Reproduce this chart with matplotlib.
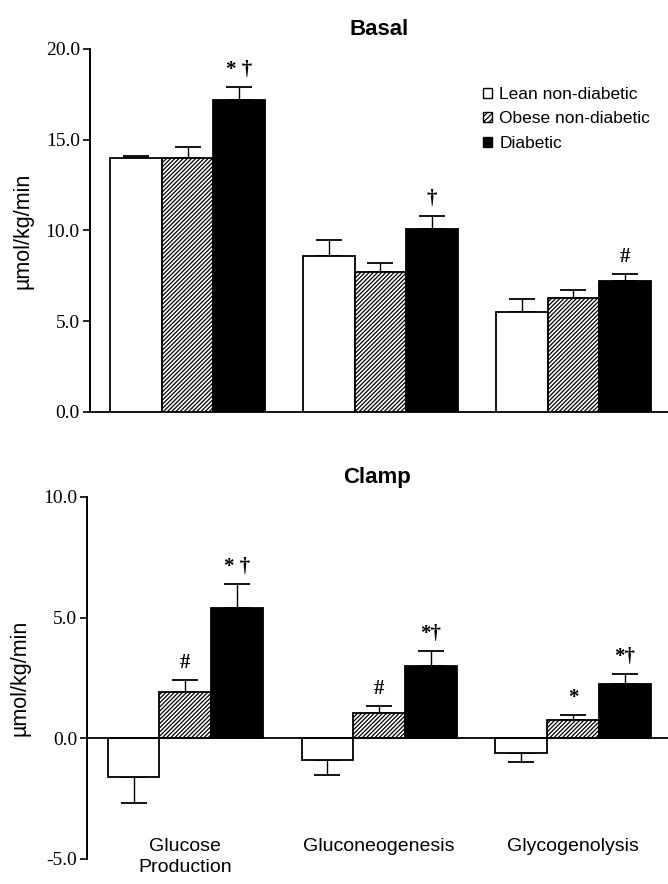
import numpy as np
import matplotlib
matplotlib.use("Agg")
import matplotlib.pyplot as plt
from matplotlib.patches import Patch

# measures on the x axis
categories = ["Glucose\nProduction", "Gluconeogenesis", "Glycogenolysis"]
groups = ["Lean non-diabetic", "Obese non-diabetic", "Diabetic"]

# basal rates (umol/kg/min), one list per group, and SEM
basal_lean = [14.0, 8.6, 5.5]
basal_obese = [14.0, 7.7, 6.3]
basal_diab = [17.2, 10.1, 7.2]
basal_lean_err = [0.1, 0.9, 0.7]
basal_obese_err = [0.6, 0.5, 0.4]
basal_diab_err = [0.7, 0.7, 0.4]

# clamp rates
clamp_lean = [-1.6, -0.9, -0.6]
clamp_obese = [1.9, 1.05, 0.75]
clamp_diab = [5.4, 3.0, 2.25]
clamp_lean_err = [1.1, 0.6, 0.4]
clamp_obese_err = [0.5, 0.3, 0.2]
clamp_diab_err = [1.0, 0.6, 0.4]

# significance marks
basal_marks_obese = ["", "", ""]
basal_marks_diab = ["* \u2020", "\u2020", "#"]
clamp_marks_obese = ["#", "#", "*"]
clamp_marks_diab = ["* \u2020", "*\u2020", "*\u2020"]

SERIF = "Liberation Serif"
SANS = "Liberation Sans"
HATCH = "////////"
plt.rcParams["hatch.linewidth"] = 0.9


def draw_panel(ax, series, errs, marks, title, ylim, yticks):
    x = np.arange(len(categories))
    w = 0.267
    styles = [dict(color="white", hatch=None),
              dict(color="white", hatch=HATCH),
              dict(color="black", hatch=None)]
    for i, (vals, err, mk, st) in enumerate(zip(series, errs, marks, styles)):
        xi = x + (i - 1) * w
        vals = np.array(vals)
        err = np.array(err)
        ax.bar(xi, vals, width=w, color=st["color"], hatch=st["hatch"],
               edgecolor="black", linewidth=1.3, zorder=3)
        lo = np.where(vals < 0, err, 0)
        hi = np.where(vals >= 0, err, 0)
        ax.errorbar(xi, vals, yerr=[lo, hi], fmt="none", ecolor="black",
                    elinewidth=1.0, capsize=9.5, capthick=1.3, zorder=2)
        for xx, v, e, m in zip(xi, vals, err, mk):
            if m:
                ax.annotate(m, (xx, v + e), xytext=(0, 5),
                            textcoords="offset points", ha="center",
                            va="bottom", fontsize=15, fontweight="bold",
                            family=SERIF)
    ax.set_xlim(-0.508, 2.49)
    ax.set_ylim(*ylim)
    ax.set_yticks(yticks)
    ax.set_yticklabels(["%.1f" % t for t in yticks], family=SERIF,
                       fontsize=14)
    ax.set_xticks([])
    ax.tick_params(axis="y", direction="out", length=5, width=1.2, pad=2)
    ax.spines["left"].set_linewidth(1.4)
    ax.spines["top"].set_visible(False)
    ax.spines["right"].set_visible(False)
    ax.set_ylabel("\u00b5mol/kg/min", family=SANS, fontsize=15.5,
                  labelpad=9)
    ax.set_title(title, family=SANS, fontweight="bold", fontsize=16,
                 pad=10)


fig = plt.figure(figsize=(6.68, 8.84), dpi=100)
ax1 = fig.add_axes([0.134, 0.534, 0.866, 0.4106])
ax2 = fig.add_axes([0.130, 0.0283, 0.870, 0.4095])

draw_panel(ax1, [basal_lean, basal_obese, basal_diab],
           [basal_lean_err, basal_obese_err, basal_diab_err],
           [["", "", ""], basal_marks_obese, basal_marks_diab],
           "Basal", (0, 20), [0, 5, 10, 15, 20])
ax1.spines["bottom"].set_linewidth(1.3)

draw_panel(ax2, [clamp_lean, clamp_obese, clamp_diab],
           [clamp_lean_err, clamp_obese_err, clamp_diab_err],
           [["", "", ""], clamp_marks_obese, clamp_marks_diab],
           "Clamp", (-5, 10), [-5, 0, 5, 10])
ax2.spines["bottom"].set_visible(False)
ax2.axhline(0, color="black", linewidth=1.3, zorder=4)
for i, c in enumerate(categories):
    ax2.text(i, -4.15, c, ha="center", va="top", family=SANS, fontsize=14,
             linespacing=1.25)

handles = [Patch(facecolor="white", edgecolor="black", linewidth=1),
           Patch(facecolor="white", edgecolor="black", hatch="//////",
                 linewidth=1),
           Patch(facecolor="black", edgecolor="black", linewidth=1)]
ax1.legend(handles, groups, loc="upper left", bbox_to_anchor=(0.668, 0.915),
           frameon=False, handlelength=0.5, handleheight=0.5,
           handletextpad=0.45, labelspacing=0.55, borderaxespad=0,
           prop={"family": SANS, "size": 12.5})

fig.savefig("out.png", dpi=100)
